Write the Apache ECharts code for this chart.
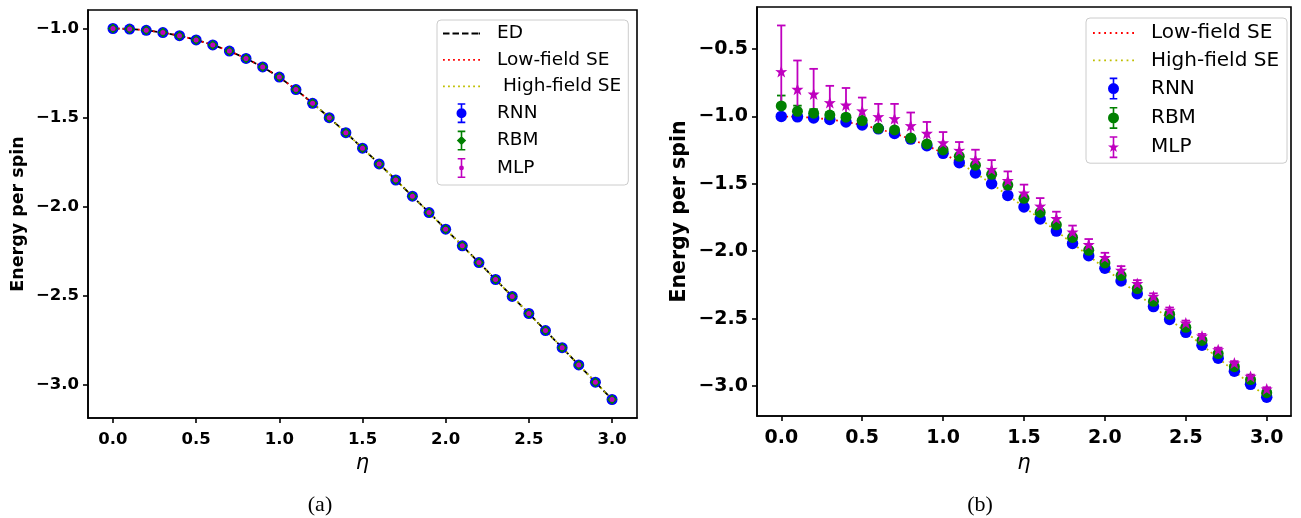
<!DOCTYPE html>
<html><head><meta charset="utf-8">
<script src="https://cdn.jsdelivr.net/npm/echarts@6/dist/echarts.min.js"></script>
<style>html,body{margin:0;padding:0;background:#fff}#c{width:1301px;height:518px}</style>
</head><body><div id="c"></div>
<script>
// ---------- shared ----------
const eta = [0.0,0.1,0.2,0.3,0.4,0.5,0.6,0.7,0.8,0.9,1.0,1.1,1.2,1.3,1.4,1.5,1.6,1.7,1.8,1.9,2.0,2.1,2.2,2.3,2.4,2.5,2.6,2.7,2.8,2.9,3.0];
const xTicks = [0.0,0.5,1.0,1.5,2.0,2.5,3.0];
const yTicksA = [-3.0,-2.5,-2.0,-1.5,-1.0];
const yTicksB = [-3.0,-2.5,-2.0,-1.5,-1.0,-0.5];

// ---------- panel (a) ----------
const edA = [-1.000,-1.0025,-1.010,-1.0226,-1.0404,-1.0635,-1.0922,-1.1268,-1.1677,-1.2163,-1.2732,-1.3431,-1.4196,-1.5007,-1.5852,-1.6719,-1.7605,-1.8506,-1.9419,-2.0341,-2.1271,-2.2208,-2.3152,-2.4101,-2.5053,-2.6011,-2.6971,-2.7934,-2.8901,-2.9869,-3.0839];
const etaLowA = [0.0,0.1,0.2,0.3,0.4,0.5,0.6,0.7,0.8,0.9,1.0,1.1,1.2];
const lowA = [-1.000,-1.0025,-1.010,-1.0226,-1.0404,-1.0635,-1.0922,-1.1268,-1.1677,-1.2162,-1.2725,-1.3428,-1.4195];
const etaHighA = [1.2,1.3,1.4,1.5,1.6,1.7,1.8,1.9,2.0,2.1,2.2,2.3,2.4,2.5,2.6,2.7,2.8,2.9,3.0];
const highA = [-1.4194,-1.5006,-1.5852,-1.6719,-1.7605,-1.8506,-1.9419,-2.0341,-2.1271,-2.2208,-2.3152,-2.4101,-2.5053,-2.6011,-2.6971,-2.7934,-2.8901,-2.9869,-3.0839];
const rnnA = [-1.000,-1.003,-1.010,-1.023,-1.040,-1.064,-1.092,-1.127,-1.168,-1.216,-1.273,-1.343,-1.420,-1.501,-1.585,-1.672,-1.761,-1.851,-1.942,-2.034,-2.127,-2.221,-2.315,-2.410,-2.505,-2.601,-2.697,-2.793,-2.890,-2.987,-3.084];
const rbmA = [-1.000,-1.003,-1.010,-1.023,-1.040,-1.064,-1.092,-1.127,-1.168,-1.216,-1.273,-1.343,-1.420,-1.501,-1.585,-1.672,-1.761,-1.851,-1.942,-2.034,-2.127,-2.221,-2.315,-2.410,-2.505,-2.601,-2.697,-2.793,-2.890,-2.987,-3.084];
const mlpA = [-1.000,-1.003,-1.010,-1.023,-1.040,-1.064,-1.092,-1.127,-1.168,-1.216,-1.273,-1.343,-1.420,-1.501,-1.585,-1.672,-1.761,-1.851,-1.942,-2.034,-2.127,-2.221,-2.315,-2.410,-2.505,-2.601,-2.697,-2.793,-2.890,-2.987,-3.084];
const errA = [0.002,0.002,0.002,0.002,0.002,0.002,0.002,0.002,0.002,0.002,0.002,0.002,0.002,0.002,0.002,0.002,0.002,0.002,0.002,0.002,0.002,0.002,0.002,0.002,0.002,0.002,0.002,0.002,0.002,0.002,0.002];

// ---------- panel (b) ----------
const etaLowB = [0.0,0.1,0.2,0.3,0.4,0.5,0.6,0.7,0.8,0.9,1.0,1.1];
const lowB = [-1.000,-1.0025,-1.010,-1.0226,-1.0404,-1.0635,-1.0922,-1.1268,-1.1677,-1.2162,-1.2725,-1.3428];
const etaHighB = [1.1,1.2,1.3,1.4,1.5,1.6,1.7,1.8,1.9,2.0,2.1,2.2,2.3,2.4,2.5,2.6,2.7,2.8,2.9,3.0];
const highB = [-1.3432,-1.4196,-1.5007,-1.5852,-1.6719,-1.7605,-1.8506,-1.9419,-2.0341,-2.1271,-2.2208,-2.3152,-2.4101,-2.5053,-2.6011,-2.6971,-2.7934,-2.8901,-2.9869,-3.0839];
const rnnB = [-1.000,-1.003,-1.011,-1.023,-1.041,-1.064,-1.092,-1.127,-1.168,-1.218,-1.274,-1.343,-1.420,-1.500,-1.586,-1.672,-1.761,-1.851,-1.943,-2.034,-2.127,-2.221,-2.316,-2.411,-2.506,-2.602,-2.698,-2.794,-2.891,-2.988,-3.084];
const rnnErrB = [0.004,0.004,0.004,0.004,0.004,0.004,0.004,0.004,0.004,0.004,0.004,0.004,0.004,0.004,0.004,0.004,0.004,0.004,0.004,0.004,0.004,0.004,0.004,0.004,0.004,0.004,0.004,0.004,0.004,0.004,0.004];
const rbmB = [-0.922,-0.962,-0.976,-0.990,-1.006,-1.031,-1.088,-1.100,-1.160,-1.204,-1.249,-1.296,-1.362,-1.430,-1.509,-1.608,-1.712,-1.804,-1.898,-1.993,-2.087,-2.181,-2.277,-2.372,-2.468,-2.565,-2.662,-2.760,-2.857,-2.953,-3.050];
const rbmErrB = [0.077,0.042,0.030,0.022,0.020,0.015,0.012,0.012,0.010,0.010,0.010,0.010,0.010,0.010,0.010,0.010,0.010,0.010,0.010,0.010,0.010,0.010,0.010,0.010,0.010,0.010,0.010,0.010,0.010,0.010,0.010];
const mlpB = [-0.667,-0.798,-0.833,-0.897,-0.915,-0.959,-1.001,-1.016,-1.068,-1.125,-1.195,-1.252,-1.321,-1.393,-1.475,-1.568,-1.665,-1.757,-1.857,-1.950,-2.047,-2.141,-2.240,-2.335,-2.438,-2.533,-2.630,-2.731,-2.830,-2.929,-3.022];
const mlpErrB = [0.342,0.213,0.186,0.124,0.126,0.099,0.094,0.109,0.097,0.084,0.079,0.062,0.074,0.069,0.067,0.062,0.059,0.050,0.047,0.040,0.035,0.030,0.025,0.022,0.020,0.018,0.016,0.015,0.014,0.013,0.012];

// ---------- styling ----------
const C = {blue:'#0000ff', green:'#008000', mag:'#bf00bf', red:'#ff0000', yel:'#bfbf00', blk:'#000000'};
const STAR = 'path://M5.5,0L6.9,3.9L10.73,3.8L7.75,6.35L8.9,10.2L5.5,7.9L2.1,10.2L3.25,6.35L0.27,3.8L4.1,3.9Z';

function pairs(xs, ys){ return xs.map((x,i)=>[x, ys[i]]); }

function lineSeries(name, idx, xs, ys, color, type, width){
  return {type:'line', name, xAxisIndex:idx, yAxisIndex:idx, data:pairs(xs,ys),
    symbol:'none', showSymbol:false, smooth:false,
    lineStyle:{color, width, type, cap:'butt'}, itemStyle:{color}, silent:true, z:2};
}
function errSeries(name, idx, xs, ys, es, color, capW, lw){
  return {type:'custom', name, xAxisIndex:idx, yAxisIndex:idx,
    data: xs.map((x,i)=>[x, ys[i]-es[i], ys[i]+es[i]]),
    encode:{x:0, y:[1,2]}, silent:true, z:2, itemStyle:{color},
    renderItem:(params, api)=>{
      const x=api.value(0), lo=api.value(1), hi=api.value(2);
      const a=api.coord([x,hi]), b=api.coord([x,lo]);
      const st={stroke:color, lineWidth:lw, fill:null};
      return {type:'group', children:[
        {type:'line', shape:{x1:a[0],y1:a[1],x2:b[0],y2:b[1]}, style:st},
        {type:'line', shape:{x1:a[0]-capW/2,y1:a[1],x2:a[0]+capW/2,y2:a[1]}, style:st},
        {type:'line', shape:{x1:b[0]-capW/2,y1:b[1],x2:b[0]+capW/2,y2:b[1]}, style:st}
      ]};
    }};
}
function scatSeries(name, idx, xs, ys, color, symbol, size){
  return {type:'scatter', name, xAxisIndex:idx, yAxisIndex:idx, data:pairs(xs,ys),
    symbol, symbolSize:size, itemStyle:{color, opacity:1, borderWidth:0}, silent:true, z:2};
}

// legend icon geometry
function dotsPath(w, step, d){ let p='path://'; for(let x=0;x+d<=w+0.01;x+=step){ p+=`M${x.toFixed(2)},0h${d}v${d}h-${d}z`; } return p; }
const dashPathA = 'path://M0,0h6.5v1.8h-6.5zM9.5,0h6.5v1.8h-6.5zM19,0h6.5v1.8h-6.5zM28.5,0h6.5v1.8h-6.5zM35.5,0h1.5v1.8h-1.5z';
function barIcon(w, h, inner){ // vertical error bar with caps + marker path
  const cx=w/2, lw=1.6;
  return `path://M${cx-lw/2},0h${lw}v${h}h-${lw}z M${cx-3.8},0h7.6v${lw}h-7.6z M${cx-3.8},${h-lw}h7.6v${lw}h-7.6z ` + inner;
}
function circ(cx, cy, r){ return `M${cx-r},${cy}a${r},${r} 0 1,1 ${2*r},0a${r},${r} 0 1,1 -${2*r},0z`; }
const rnnIconA = barIcon(10,20, circ(5,10,5));
const rbmIconA = barIcon(10,20, 'M5,5.3L9.7,10L5,14.7L0.3,10z');
const mlpIconA = barIcon(10,20, circ(5,10,2.4));
const rnnIconB = barIcon(11,22, circ(5.5,11,5.5));
const rbmIconB = barIcon(11,22, circ(5.5,11,5.5));
const mlpIconB = barIcon(11,22, 'M5.5,5.3L6.9,9.3L11,9.3L7.75,11.8L8.95,15.7L5.5,13.4L2.05,15.7L3.25,11.8L0,9.3L4.1,9.3Z');

const tickFont = (size)=>({fontFamily:'DejaVu Sans', fontWeight:'bold', fontSize:size, color:'#000'});
const fmtX = v=>v.toFixed(1);
const fmtY = v=>(v<0?'\u2212':'')+Math.abs(v).toFixed(1);

function xAxis(idx, gap, fs, mg){
  return {gridIndex:idx, type:'value', min:-0.15, max:3.15,
    name:'η', nameLocation:'middle', nameGap:gap,
    nameTextStyle:{fontFamily:'DejaVu Sans', fontStyle:'italic', fontSize:21, color:'#000'},
    axisLine:{show:true, onZero:false, lineStyle:{color:'#000', width:1.6}},
    axisTick:{show:true, length:5, customValues:xTicks, lineStyle:{color:'#000', width:1.6}},
    axisLabel:Object.assign({customValues:xTicks, formatter:fmtX, margin:mg}, tickFont(fs)),
    splitLine:{show:false}};
}
function yAxis(idx, mn, mx, ticks, gap, fs, nfs){
  return {gridIndex:idx, type:'value', min:mn, max:mx,
    name:'Energy per spin', nameLocation:'middle', nameGap:gap, nameRotate:90,
    nameTextStyle:{fontFamily:'DejaVu Sans', fontWeight:'bold', fontSize:nfs, color:'#000'},
    axisLine:{show:true, onZero:false, lineStyle:{color:'#000', width:1.6}},
    axisTick:{show:true, length:5, customValues:ticks, lineStyle:{color:'#000', width:1.6}},
    axisLabel:Object.assign({customValues:ticks, formatter:fmtY, margin:9}, tickFont(fs)),
    splitLine:{show:false}};
}
const legItem = (name, icon, color)=>({name, icon, itemStyle:{color, borderWidth:0, opacity:1}});

const option = {
  animation:false,
  backgroundColor:'#fff',
  grid:[
    {left:88, top:10, width:549, height:408, show:true, borderColor:'#000', borderWidth:1.6, backgroundColor:'transparent', containLabel:false},
    {left:757, top:7, width:534, height:409, show:true, borderColor:'#000', borderWidth:1.6, backgroundColor:'transparent', containLabel:false}
  ],
  xAxis:[ xAxis(0, 34, 16.5, 13), xAxis(1, 36, 19, 13) ],
  yAxis:[ yAxis(0, -3.188, -0.896, yTicksA, 61, 16.5, 17.5), yAxis(1, -3.223, -0.188, yTicksB, 67, 19, 20.5) ],
  legend:[
    {left:437, top:20, orient:'vertical', selectedMode:false, itemWidth:37, itemHeight:20, itemGap:7.4,
     padding:[4,7,7,6], backgroundColor:'rgba(255,255,255,0.8)', borderColor:'#cccccc', borderWidth:1, borderRadius:4,
     symbolKeepAspect:true,
     textStyle:{fontFamily:'DejaVu Sans', fontSize:18.5, color:'#000', padding:[0,0,0,12]},
     data:[ legItem('ED', dashPathA, C.blk), legItem('Low-field SE', dotsPath(37,5,1.8), C.red),
            legItem(' High-field SE', dotsPath(37,5,1.8), C.yel), legItem('RNN', rnnIconA, C.blue),
            legItem('RBM', rbmIconA, C.green), legItem('MLP', mlpIconA, C.mag) ]},
    {left:1086, top:18, orient:'vertical', selectedMode:false, itemWidth:41, itemHeight:22, itemGap:7.3,
     padding:[5,8,5,7], backgroundColor:'rgba(255,255,255,0.8)', borderColor:'#cccccc', borderWidth:1, borderRadius:4,
     symbolKeepAspect:true,
     textStyle:{fontFamily:'DejaVu Sans', fontSize:20, color:'#000', padding:[0,0,0,12]},
     data:[ legItem('Low-field SE', dotsPath(41,5.6,1.8), C.red), legItem('High-field SE', dotsPath(41,5.6,1.8), C.yel),
            legItem('RNN', rnnIconB, C.blue), legItem('RBM', rbmIconB, C.green), legItem('MLP', mlpIconB, C.mag) ]}
  ],
  graphic:[
    {type:'text', x:320, y:505, style:{text:'(a)', font:'22px "Liberation Serif"', fill:'#000', textAlign:'center', textVerticalAlign:'middle'}},
    {type:'text', x:980, y:505, style:{text:'(b)', font:'22px "Liberation Serif"', fill:'#000', textAlign:'center', textVerticalAlign:'middle'}}
  ],
  series:[
    // panel (a)
    lineSeries('ED', 0, eta, edA, C.blk, [6.5,3], 1.8),
    lineSeries('Low-field SE', 0, etaLowA, lowA, C.red, [1.8,3.2], 1.8),
    lineSeries(' High-field SE', 0, etaHighA, highA, C.yel, [1.8,3.2], 1.8),
    errSeries('RNN', 0, eta, rnnA, errA, C.blue, 7, 1.5),
    scatSeries('RNN', 0, eta, rnnA, C.blue, 'circle', 11),
    errSeries('RBM', 0, eta, rbmA, errA, C.green, 7, 1.5),
    scatSeries('RBM', 0, eta, rbmA, C.green, 'diamond', 10),
    errSeries('MLP', 0, eta, mlpA, errA, C.mag, 7, 1.5),
    scatSeries('MLP', 0, eta, mlpA, C.mag, 'circle', 5),
    // panel (b)
    lineSeries('Low-field SE', 1, etaLowB, lowB, C.red, [1.8,3.2], 1.8),
    lineSeries('High-field SE', 1, etaHighB, highB, C.yel, [1.8,3.2], 1.8),
    errSeries('RNN', 1, eta, rnnB, rnnErrB, C.blue, 8.5, 1.8),
    scatSeries('RNN', 1, eta, rnnB, C.blue, 'circle', 11.5),
    errSeries('RBM', 1, eta, rbmB, rbmErrB, C.green, 8.5, 1.8),
    scatSeries('RBM', 1, eta, rbmB, C.green, 'circle', 11),
    errSeries('MLP', 1, eta, mlpB, mlpErrB, C.mag, 8.5, 1.8),
    scatSeries('MLP', 1, eta, mlpB, C.mag, STAR, 12)
  ]
};
const chart = echarts.init(document.getElementById('c'), null, {renderer:'canvas'});
chart.setOption(option);
</script></body></html>
